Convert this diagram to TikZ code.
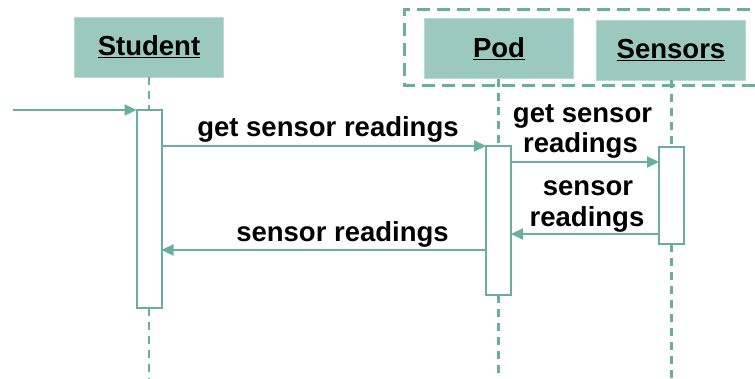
\documentclass[tikz,border=0pt]{standalone}
\usepackage{fontspec}
\setmainfont{Liberation Sans}
\usetikzlibrary{arrows.meta}
\definecolor{tealline}{RGB}{104,175,159}
\definecolor{tealfill}{RGB}{155,201,191}
\tikzset{
  x=1pt, y=-1pt,
  lbl/.style={font=\fontsize{27.5}{30}\selectfont\bfseries, inner sep=0pt},
  actor/.style={lbl, fill=tealfill, draw=tealfill!70!white, line width=0.6pt, minimum width=149pt, minimum height=60pt},
  actbar/.style={draw=tealline, fill=white, line width=2pt, minimum width=25pt, inner sep=0pt, outer sep=0pt},
  lifeline/.style={draw=tealline, line width=2.2pt, dash pattern=on 8pt off 6pt},
  msg/.style={draw=tealline, line width=2.2pt, -{Triangle[length=12pt,width=11pt]}},
  group/.style={draw=tealline, line width=3pt, dash pattern=on 13pt off 7pt}
}
\begin{document}
\begin{tikzpicture}
\useasboundingbox (0,0) rectangle (755,379);

% dashed frame around Pod and Sensors
\draw[group] (770,9.5) -- (404,9.5) -- (404,85.5) -- (770,85.5);

% participants
\node[actor] (student) at (149,47) {\underline{Student}};
\node[actor] (pod) at (499,48.5) {\underline{Pod}};
\node[actor] (sensors) at (671,50) {\underline{Sensors}};

% activation bars
\node[actbar, minimum height=198pt] (stact) at (149,209) {};
\node[actbar, minimum height=149pt] (podact) at (498.5,220.5) {};
\node[actbar, minimum height=97pt] (sensact) at (671.5,195.5) {};

% lifeline ends
\coordinate (stend) at (149,380);
\coordinate (podend) at (498.5,380);
\coordinate (sensend) at (671.5,380);

% lifelines
\draw[lifeline] (student.south) -- (stact.north);
\draw[lifeline] (stact.south) -- (stend);
\draw[lifeline] (pod.south -| podact.north) -- (podact.north);
\draw[lifeline] (podact.south) -- (podend);
\draw[lifeline] (sensors.south -| sensact.north) -- (sensact.north);
\draw[lifeline] (sensact.south) -- (sensend);

% message levels
\coordinate (start) at (13,110);
\coordinate (m2) at (0,162);
\coordinate (m3) at (0,234);
\coordinate (m4) at (0,250);

% messages
\draw[msg] (start) -- (stact.north west);
\draw[msg] (stact.east |- podact.north) -- (podact.north west);
\draw[msg] (podact.east |- m2) -- (sensact.west |- m2);
\draw[msg] (sensact.west |- m3) -- (podact.east |- m3);
\draw[msg] (podact.west |- m4) -- (stact.east |- m4);

% message labels
\node[lbl, anchor=base] (l1) at (328,137) {get sensor readings};
\node[lbl, anchor=base] (l2a) at (582.5,123) {get sensor};
\node[lbl, anchor=base] (l2b) at (580.5,153) {readings};
\node[lbl, anchor=base] (l3a) at (588,196) {sensor};
\node[lbl, anchor=base] (l3b) at (587,227) {readings};
\node[lbl, anchor=base] (l4) at (342.5,242) {sensor readings};
\end{tikzpicture}
\end{document}
